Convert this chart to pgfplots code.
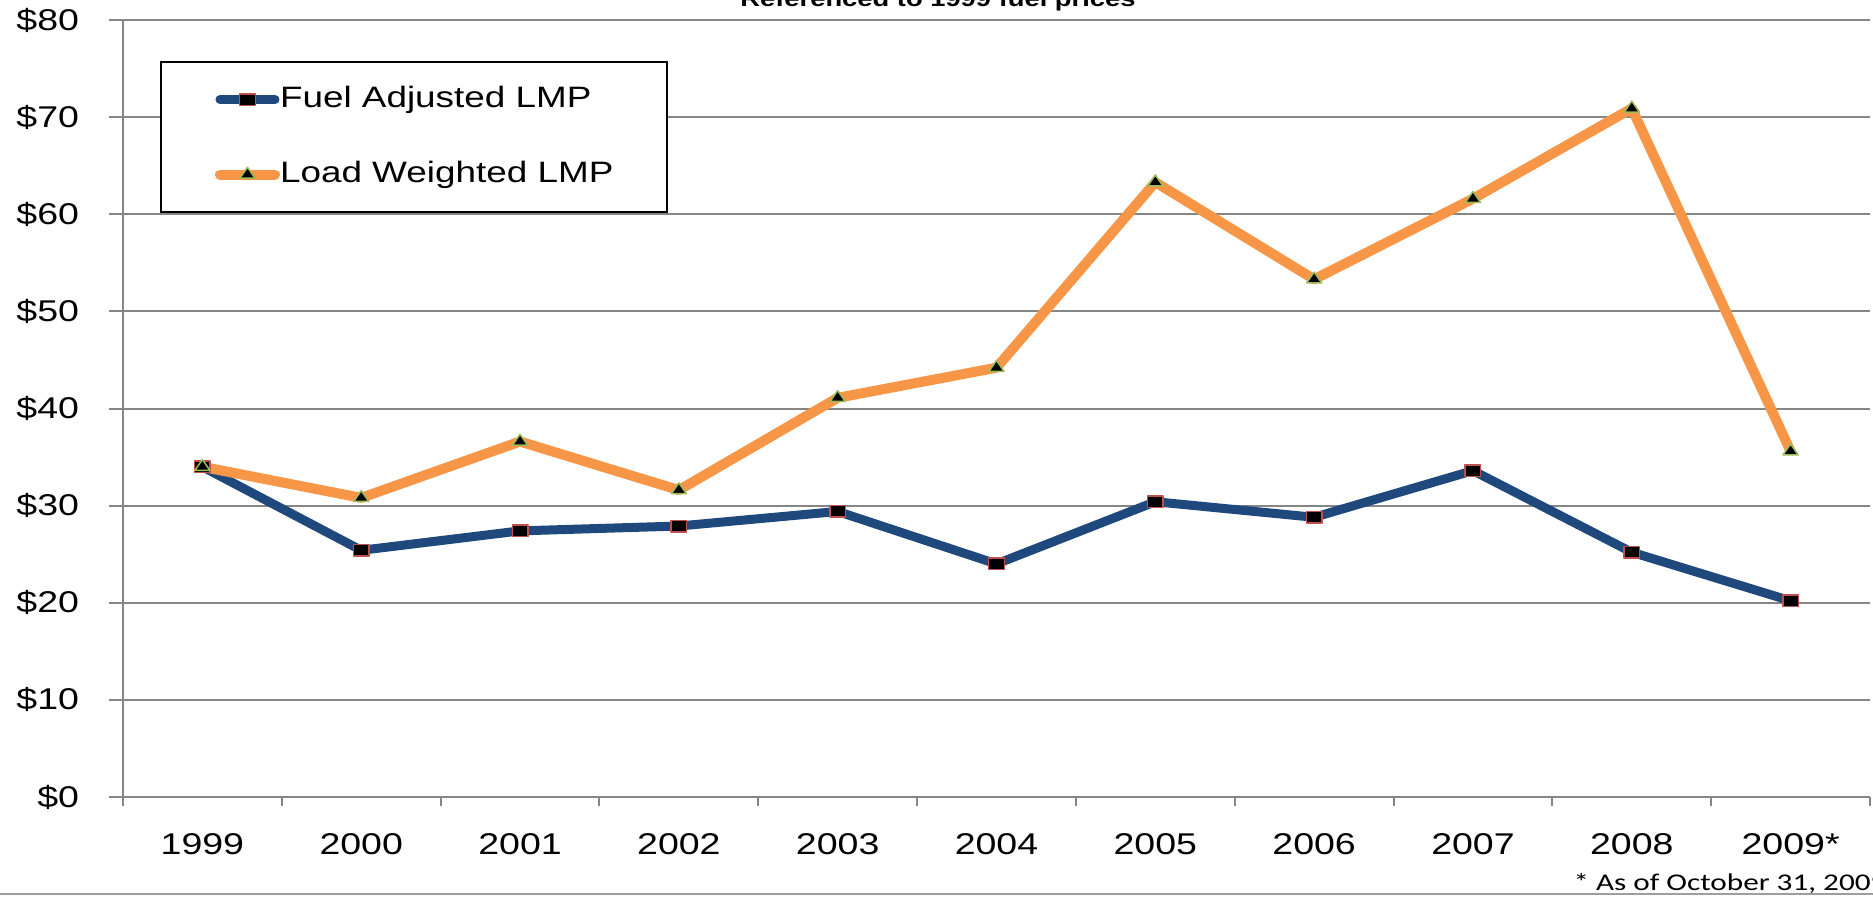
\documentclass[border=0pt]{standalone}
\usepackage{fontspec}
\setmainfont{Liberation Sans}[FakeStretch=1.25]
\newfontfamily\notefont{Carlito}[FakeStretch=1.3]
\usepackage{pgfplots}
\usepackage{pgfplotstable}
\pgfplotsset{compat=1.18}

\definecolor{fuelblue}{HTML}{1F497D}
\definecolor{loadorange}{HTML}{F79646}
\definecolor{mkred}{HTML}{C0504D}
\definecolor{mkgreen}{HTML}{9BBB59}
\definecolor{gridgray}{HTML}{868686}

% Yearly LMP ($/MWh), 1999 fuel price reference
\pgfplotstableread{
idx fuel load
0  34.0 34.0
1  25.4 30.8
2  27.4 36.6
3  27.9 31.6
4  29.4 41.1
5  24.0 44.2
6  30.4 63.3
7  28.8 53.3
8  33.6 61.6
9  25.2 70.9
10 20.2 35.6
}\lmp

\begin{document}
\begin{tikzpicture}
\begin{axis}[
  scale only axis,
  width=698.8pt, height=310.8pt,
  xmin=-0.5, xmax=10.5, ymin=0, ymax=80,
  axis x line*=bottom, axis y line*=left,
  axis line style={gridgray, line width=0.8pt, -},
  tick align=outside,
  xtick={0,...,10},
  xticklabels={1999,2000,2001,2002,2003,2004,2005,2006,2007,2008,2009*},
  minor xtick={-0.5,0.5,...,10.5},
  major x tick style={draw=none},
  minor x tick style={gridgray, line width=0.8pt},
  minor tick length=3.6pt,
  major tick length=5.6pt,
  ytick={0,10,...,80},
  yticklabels={\$0,\$10,\$20,\$30,\$40,\$50,\$60,\$70,\$80},
  y tick style={gridgray, line width=0.8pt},
  ymajorgrids,
  grid style={gridgray, line width=0.8pt},
  tick label style={font=\fontsize{12}{14}\selectfont},
  yticklabel style={anchor=east, inner sep=0pt, xshift=-11.8pt},
  xticklabel style={anchor=base, inner sep=0pt, yshift=-17.5pt},
  legend style={at={(axis description cs:0.02118,0.9472)}, anchor=north west,
    draw=black, line width=0.8pt, inner xsep=21.6pt, inner ysep=10pt,
    row sep=20pt, font=\fontsize{11.8}{13}\selectfont,
    nodes={inner sep=0pt, text height=8pt, text depth=2pt}},
  legend cell align=left,
  legend image code/.code={
    \draw[#1, mark repeat=2, mark phase=2, line cap=round]
      plot coordinates {(0pt,0pt) (11pt,0pt) (22pt,0pt)};},
  clip=false,
]
\addplot[fuelblue, line width=3.6pt, line join=round,
  mark=square*, mark size=2.3pt,
  mark options={fill=black, draw=mkred, line width=0.6pt, xscale=1.35}]
  table[x=idx, y=fuel] {\lmp};
\addplot[loadorange, line width=4.0pt, line join=round,
  mark=triangle*, mark size=2.9pt,
  mark options={fill=black, draw=mkgreen, line width=0.6pt, xscale=1.2}]
  table[x=idx, y=load] {\lmp};
\legend{Fuel Adjusted LMP, Load Weighted LMP}
\end{axis}
% heading, partly above the page edge
\node[anchor=base, inner sep=0pt, font=\bfseries\fontsize{8.75}{10}\selectfont]
  at (326pt,316pt) {Referenced to 1999 fuel prices};
% footnote and slide rule below the chart
\node[anchor=base west, inner sep=0pt, font=\notefont\fontsize{9.6}{11}\selectfont]
  at (580pt,-37.4pt) {* As of October 31, 2009};
\draw[gridgray!80, line width=0.8pt] (-49.2pt,-38.8pt) -- (700pt,-38.8pt);
\pgfresetboundingbox
\useasboundingbox (-49.2pt,-40.4pt) rectangle (700pt,318.8pt);
\end{tikzpicture}
\end{document}
